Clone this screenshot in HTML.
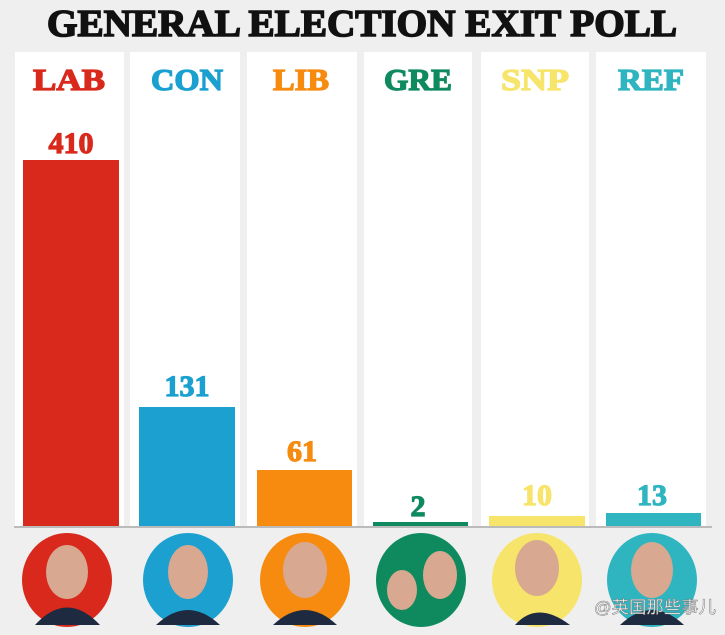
<!DOCTYPE html>
<html><head><meta charset="utf-8"><style>
html,body{margin:0;padding:0;background:#efefef;}
svg{display:block;}
</style></head><body>
<svg width="725" height="635" xmlns="http://www.w3.org/2000/svg">
<rect width="725" height="635" fill="#efefef"/>
<text x="362" y="36" text-anchor="middle" font-family="Liberation Serif, serif" font-weight="bold" font-size="38" textLength="630" lengthAdjust="spacingAndGlyphs" fill="#111" stroke="#111" stroke-width="1.6">GENERAL ELECTION EXIT POLL</text>
<g fill="#fff">
<rect x="15" y="52" width="109" height="475"/>
<rect x="130" y="52" width="110" height="475"/>
<rect x="247" y="52" width="110" height="475"/>
<rect x="364" y="52" width="108" height="475"/>
<rect x="481" y="52" width="108" height="475"/>
<rect x="596" y="52" width="110" height="475"/>
</g>
<g font-family="Liberation Serif, serif" font-weight="bold" font-size="31" text-anchor="middle" stroke-width="1.3">
<text x="69" y="90" fill="#d9291c" stroke="#d9291c" textLength="72" lengthAdjust="spacingAndGlyphs">LAB</text>
<text x="187" y="90" fill="#1ba0d0" stroke="#1ba0d0" textLength="72" lengthAdjust="spacingAndGlyphs">CON</text>
<text x="301" y="90" fill="#f68b0f" stroke="#f68b0f" textLength="56" lengthAdjust="spacingAndGlyphs">LIB</text>
<text x="418" y="90" fill="#0f8a5f" stroke="#0f8a5f" textLength="68" lengthAdjust="spacingAndGlyphs">GRE</text>
<text x="535" y="90" fill="#f7e46a" stroke="#f7e46a" textLength="68" lengthAdjust="spacingAndGlyphs">SNP</text>
<text x="651" y="90" fill="#2fb5c0" stroke="#2fb5c0" textLength="66" lengthAdjust="spacingAndGlyphs">REF</text>
</g>
<rect x="23" y="160" width="96" height="367" fill="#d9291c"/>
<rect x="139" y="407" width="96" height="120" fill="#1ba0d0"/>
<rect x="257" y="470" width="95" height="57" fill="#f68b0f"/>
<rect x="373" y="522" width="95" height="5" fill="#0f8a5f"/>
<rect x="489" y="516" width="96" height="11" fill="#f7e46a"/>
<rect x="606" y="513" width="95" height="14" fill="#2fb5c0"/>
<rect x="14" y="526" width="698" height="2" fill="#bbb"/>
<g font-family="Liberation Serif, serif" font-weight="bold" font-size="30" text-anchor="middle" stroke-width="1.2">
<text x="71" y="153" fill="#d9291c" stroke="#d9291c">410</text>
<text x="187" y="396" fill="#1ba0d0" stroke="#1ba0d0">131</text>
<text x="302" y="461" fill="#f68b0f" stroke="#f68b0f">61</text>
<text x="418" y="516" fill="#0f8a5f" stroke="#0f8a5f">2</text>
<text x="537" y="505" fill="#f7e46a" stroke="#f7e46a">10</text>
<text x="652" y="505" fill="#2fb5c0" stroke="#2fb5c0">13</text>
</g>
<g>
<ellipse cx="67" cy="580" rx="45" ry="47" fill="#d9291c"/>
<ellipse cx="188" cy="580" rx="45" ry="47" fill="#1ba0d0"/>
<ellipse cx="305" cy="580" rx="45" ry="47" fill="#f68b0f"/>
<ellipse cx="421" cy="580" rx="45" ry="47" fill="#0f8a5f"/>
<ellipse cx="537" cy="580" rx="45" ry="47" fill="#f7e46a"/>
<ellipse cx="652" cy="580" rx="45" ry="47" fill="#2fb5c0"/>
</g>
<g fill="#d8a890">
<ellipse cx="67" cy="572" rx="21" ry="27"/>
<ellipse cx="188" cy="572" rx="20" ry="27"/>
<ellipse cx="305" cy="570" rx="22" ry="28"/>
<ellipse cx="402" cy="590" rx="15" ry="20"/>
<ellipse cx="440" cy="575" rx="17" ry="24"/>
<ellipse cx="537" cy="568" rx="22" ry="28"/>
<ellipse cx="652" cy="570" rx="21" ry="28"/>
</g>
<g fill="#1e2a40">
<path d="M35 625 Q67 590 100 625 Z"/>
<path d="M156 625 Q188 595 220 625 Z"/>
<path d="M273 625 Q305 595 337 625 Z"/>
<path d="M515 625 Q537 600 570 625 Z"/>
<path d="M620 625 Q652 595 684 625 Z"/>
</g>
<text x="594" y="613" font-family="Liberation Sans, 'Noto Sans CJK SC', sans-serif" font-size="17" fill="#fff" stroke="#777" stroke-width="0.5" textLength="122" lengthAdjust="spacingAndGlyphs">@英国那些事儿</text>
</svg>
</body></html>
